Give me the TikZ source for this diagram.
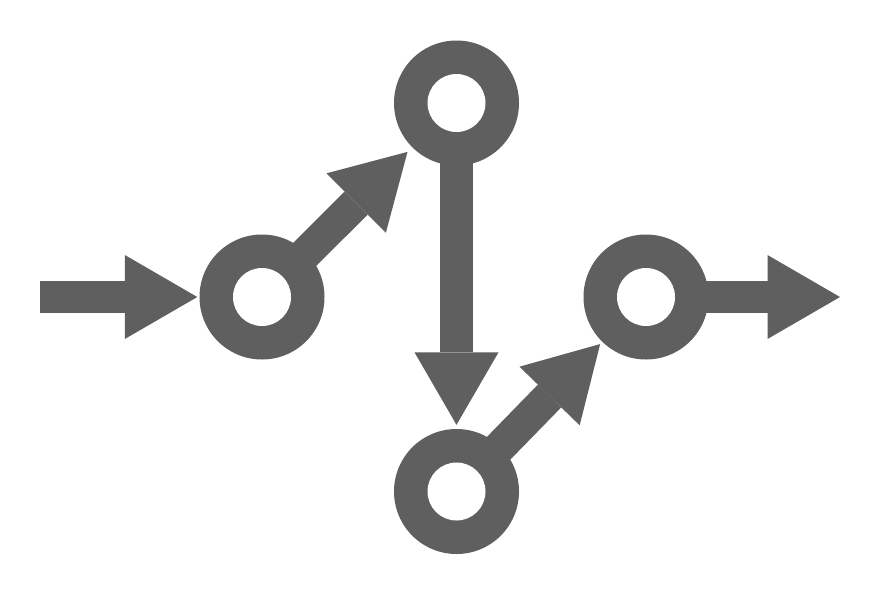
\documentclass[tikz,border=0pt]{standalone}
\usetikzlibrary{arrows.meta}
\definecolor{gc}{RGB}{95,95,95}
\pgfdeclarelayer{bg}
\pgfsetlayers{bg,main}
\tikzset{
  ring/.style={circle, fill=gc, minimum size=125pt, inner sep=0pt,
    path picture={\fill[white] (path picture bounding box.center) circle (29pt);}},
  flow/.style={draw=gc, line width=32.6pt,
    -{Triangle[length=72.5pt, width=84pt, line width=0pt]}},
  fromring/.style={shorten <=-20pt}
}
\begin{document}
\begin{tikzpicture}[x=1pt,y=-1pt]
\node[ring] (A) at (262,297) {};
\node[ring] (B) at (456.5,103) {};
\node[ring] (C) at (646,297) {};
\node[ring] (D) at (456.5,491.5) {};
\coordinate (in) at (40,297);
\coordinate (out) at (840,297);
\begin{pgfonlayer}{bg}
\fill[white] (0,0) rectangle (880,606);
\draw[flow, shorten >=2pt] (in) -- (A);
\draw[flow, fromring, shorten >=6.5pt] (A) -- (B);
\draw[flow, fromring, shorten >=4pt] (B) -- (D);
\draw[flow, fromring, shorten >=3pt] (D) -- (C);
\draw[flow, fromring] (C) -- (out);
\end{pgfonlayer}
\useasboundingbox (0,0) rectangle (880,606);
\end{tikzpicture}
\end{document}
